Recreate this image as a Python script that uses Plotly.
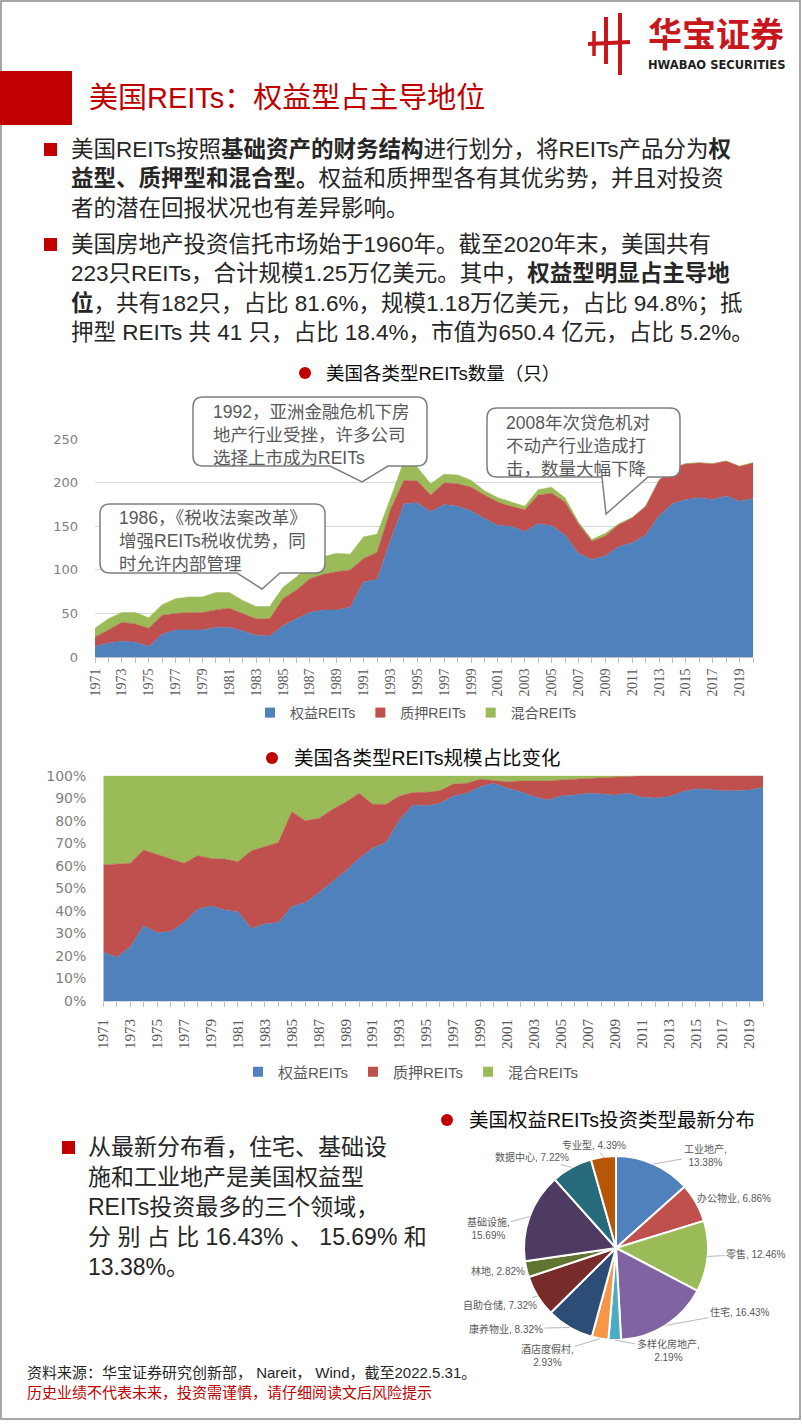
import math
import plotly.graph_objects as go

W, H = 802, 1424
def px(x): return x / W
def py(y): return 1 - y / H

# ---------------- data ----------------
years = list(range(1971, 2021))
series_names = ["权益REITs", "质押REITs", "混合REITs"]

count_equity = [12, 16, 18, 17, 12, 26, 31, 31, 31, 34,
                34, 30, 25, 24, 36, 44, 51, 54, 54, 57,
                86, 89, 134, 176, 177, 167, 175, 173, 168, 159,
                151, 150, 144, 153, 151, 140, 119, 112, 116, 127,
                131, 140, 162, 176, 181, 183, 181, 185, 179, 182]
count_mortgage = [11, 15, 22, 21, 21, 22, 19, 20, 20, 20,
                  22, 20, 19, 20, 31, 33, 39, 41, 44, 43,
                  27, 31, 35, 27, 25, 19, 25, 26, 27, 27,
                  27, 23, 25, 33, 37, 38, 34, 21, 23, 25,
                  29, 33, 41, 41, 41, 40, 41, 40, 40, 41]
count_hybrid = [10, 13, 11, 13, 12, 12, 17, 18, 18, 20,
                18, 15, 14, 14, 13, 15, 17, 20, 21, 18,
                25, 21, 13, 22, 16, 13, 10, 10, 8, 5,
                5, 5, 4, 6, 7, 5, 2, 2, 3, 1,
                0, 0, 0, 0, 0, 0, 0, 0, 0, 0]

share_equity = [21.6, 19.4, 24.0, 33.4, 30.3, 30.8, 34.8, 40.7, 42.2, 40.4,
                39.6, 32.2, 34.2, 34.8, 41.9, 43.6, 48.0, 53.0, 57.7, 63.3,
                67.8, 70.4, 80.3, 87.0, 86.7, 87.7, 91.0, 92.2, 95.1, 96.6,
                94.4, 92.9, 90.7, 89.2, 91.0, 91.4, 92.2, 91.9, 91.4, 92.2,
                90.4, 90.1, 90.7, 92.9, 94.1, 93.9, 93.3, 93.3, 93.6, 94.8]
share_mortgage = [38.8, 41.4, 37.1, 33.6, 34.7, 32.2, 26.3, 23.8, 21.1, 22.6,
                  22.2, 34.5, 34.3, 35.5, 42.1, 36.4, 33.0, 32.0, 30.5, 28.9,
                  19.5, 16.9, 10.7, 5.5, 5.9, 5.6, 5.3, 4.4, 3.3, 1.2,
                  2.9, 4.7, 6.9, 8.4, 7.1, 7.0, 6.6, 7.4, 8.2, 7.7,
                  9.6, 9.9, 9.3, 7.1, 5.9, 6.1, 6.7, 6.7, 6.4, 5.2]
share_hybrid = [39.6, 39.2, 38.9, 33.0, 35.0, 37.0, 38.9, 35.5, 36.7, 37.0,
                38.2, 33.3, 31.5, 29.7, 16.0, 20.0, 19.0, 15.0, 11.8, 7.8,
                12.7, 12.7, 9.0, 7.5, 7.4, 6.7, 3.7, 3.4, 1.6, 2.2,
                2.7, 2.4, 2.4, 2.4, 1.9, 1.6, 1.2, 0.7, 0.4, 0.1,
                0, 0, 0, 0, 0, 0, 0, 0, 0, 0]

pie_labels = ["工业地产", "办公物业", "零售", "住宅", "多样化房地产", "酒店度假村",
              "康养物业", "自助仓储", "林地", "基础设施", "数据中心", "专业型"]
pie_values = [13.38, 6.86, 12.46, 16.43, 2.19, 2.93, 8.32, 7.32, 2.82, 15.69, 7.22, 4.39]

count_ticks = [0, 50, 100, 150, 200, 250]
share_ticks = [0, 10, 20, 30, 40, 50, 60, 70, 80, 90, 100]
share_tick_text = ["0%", "10%", "20%", "30%", "40%", "50%", "60%", "70%", "80%", "90%", "100%"]

# ---------------- styles ----------------
C_BLUE, C_RED, C_GREEN = "#4F81BD", "#C0504D", "#9BBB59"
series_colors = [C_BLUE, C_RED, C_GREEN]
pie_colors = ["#4F81BD", "#C0504D", "#9BBB59", "#8064A2", "#4BACC6", "#F79646",
              "#2C4D75", "#772C2A", "#5F7530", "#4D3B62", "#276A7C", "#B65708"]
RED = "#C00000"
CJK = "Liberation Sans, Noto Sans CJK SC"

fig = go.Figure()

# chart 1: counts
for name, vals, col in zip(series_names, [count_equity, count_mortgage, count_hybrid], series_colors):
    fig.add_trace(go.Scatter(x=years, y=vals, stackgroup="one", mode="lines",
                             line=dict(width=0.5, color=col), fillcolor=col,
                             showlegend=False, hoverinfo="skip", xaxis="x", yaxis="y"))
for name, col in zip(series_names, series_colors):
    fig.add_trace(go.Scatter(x=[None], y=[None], mode="markers", name=name,
                             marker=dict(symbol="square", size=10, color=col),
                             legend="legend", xaxis="x", yaxis="y"))

# chart 2: shares
for name, vals, col in zip(series_names, [share_equity, share_mortgage, share_hybrid], series_colors):
    fig.add_trace(go.Scatter(x=years, y=vals, stackgroup="two", mode="lines",
                             line=dict(width=0.5, color=col), fillcolor=col,
                             showlegend=False, hoverinfo="skip", xaxis="x2", yaxis="y2"))
for name, col in zip(series_names, series_colors):
    fig.add_trace(go.Scatter(x=[None], y=[None], mode="markers", name=name,
                             marker=dict(symbol="square", size=10, color=col),
                             legend="legend2", xaxis="x2", yaxis="y2"))

# pie
PIE_CX, PIE_CY, PIE_R = 616, 1248, 92
fig.add_trace(go.Pie(labels=pie_labels, values=pie_values, sort=False, direction="clockwise",
                     rotation=0, textinfo="none", showlegend=False, hoverinfo="skip",
                     marker=dict(colors=pie_colors, line=dict(color="white", width=2)),
                     domain=dict(x=[px(PIE_CX - PIE_R), px(PIE_CX + PIE_R)],
                                 y=[py(PIE_CY + PIE_R), py(PIE_CY - PIE_R)])))

tick_text = [str(y) if y % 2 == 1 else "" for y in years]

layout = dict(
    width=W, height=H, autosize=False,
    margin=dict(l=0, r=0, t=0, b=0),
    paper_bgcolor="white", plot_bgcolor="rgba(0,0,0,0)",
    font=dict(family=CJK),
    xaxis=dict(domain=[px(95), px(753)], range=[1971, 2020], tickvals=years, ticktext=tick_text,
               tickangle=-90, ticks="outside", ticklen=5, tickcolor="#BFBFBF",
               showline=True, linecolor="#BFBFBF", showgrid=False, zeroline=False,
               tickfont=dict(family="Liberation Serif", size=14, color="#595959"),
               automargin=False, anchor="y"),
    yaxis=dict(domain=[py(657), py(439.3)], range=[0, 250], tickvals=count_ticks,
               showgrid=True, gridcolor="#D9D9D9", gridwidth=1, zeroline=False, showline=False,
               tickfont=dict(family="DejaVu Sans", size=13, color="#7F7F7F"),
               ticklabelstandoff=16, automargin=False, anchor="x"),
    xaxis2=dict(domain=[px(103.3), px(763)], range=[1971, 2020], tickvals=years, ticktext=tick_text,
                tickangle=-90, ticks="outside", ticklen=5, tickcolor="#BFBFBF",
                showline=True, linecolor="#D9D9D9", showgrid=False, zeroline=False,
                tickfont=dict(family="Liberation Serif", size=15, color="#595959"),
                ticklabelstandoff=6, automargin=False, anchor="y2"),
    yaxis2=dict(domain=[py(1001), py(775.7)], range=[0, 100], tickvals=share_ticks,
                ticktext=share_tick_text,
                showgrid=False, zeroline=False, showline=False,
                tickfont=dict(family="DejaVu Sans", size=14, color="#7F7F7F"),
                ticklabelstandoff=16, automargin=False, anchor="x2"),
    legend=dict(orientation="h", x=px(416), xanchor="center", y=py(713), yanchor="middle",
                font=dict(family=CJK, size=14, color="#595959"), bgcolor="rgba(0,0,0,0)",
                itemwidth=30, tracegroupgap=0, traceorder="normal"),
    legend2=dict(orientation="h", x=px(411), xanchor="center", y=py(1072), yanchor="middle",
                 font=dict(family=CJK, size=15, color="#595959"), bgcolor="rgba(0,0,0,0)",
                 itemwidth=30, tracegroupgap=0, traceorder="normal"),
)
fig.update_layout(**layout)

shapes = []
annotations = []

def rect(x0, y0, x1, y1, fill=None, line=None, lw=0):
    shapes.append(dict(type="rect", xref="paper", yref="paper", x0=px(x0), x1=px(x1),
                       y0=py(y1), y1=py(y0), fillcolor=fill,
                       line=dict(width=lw, color=line or "rgba(0,0,0,0)")))

def dot(cx, cy, r, color):
    shapes.append(dict(type="circle", xref="paper", yref="paper", x0=px(cx - r), x1=px(cx + r),
                       y0=py(cy + r), y1=py(cy - r), fillcolor=color, line=dict(width=0)))

def line_seg(x0, y0, x1, y1, color, w):
    shapes.append(dict(type="line", xref="paper", yref="paper", x0=px(x0), y0=py(y0),
                       x1=px(x1), y1=py(y1), line=dict(color=color, width=w)))

def text(x, y, s, size, color="#262626", xanchor="left", yanchor="middle", family=CJK, align="left"):
    annotations.append(dict(x=px(x), y=py(y), xref="paper", yref="paper", text=s, showarrow=False,
                            xanchor=xanchor, yanchor=yanchor, align=align,
                            font=dict(family=family, size=size, color=color)))

# page frame
rect(1, 1, 800, 1419, fill="rgba(0,0,0,0)", line="#8C8C8C", lw=1.5)

# logo
LOGO = "#C8161D"
line_seg(588, 44, 630, 42, LOGO, 4)
line_seg(594, 31, 594, 56, LOGO, 3.5)
line_seg(606, 17, 606, 64, LOGO, 4)
line_seg(620, 13, 620, 75, LOGO, 4)
text(716, 35, "<b>华宝证券</b>", 34, color=LOGO, xanchor="center")
text(716, 65, "<b>HWABAO SECURITIES</b>", 11.5, color="#231F20", xanchor="center", family="DejaVu Sans")

# title
rect(0, 71, 72, 125, fill=RED)
text(87, 98, "美国REITs：权益型占主导地位", 29, color=RED)

# bullets
rect(44, 143, 57, 156, fill=RED)
b1 = ["美国REITs按照<b>基础资产的财务结构</b>进行划分，将REITs产品分为<b>权</b>",
      "<b>益型、质押型和混合型。</b>权益和质押型各有其优劣势，并且对投资",
      "者的潜在回报状况也有差异影响。"]
text(69, 135, "<br>".join(b1), 22.5, yanchor="top")
rect(44, 238, 57, 251, fill=RED)
b2 = ["美国房地产投资信托市场始于1960年。截至2020年末，美国共有",
      "223只REITs，合计规模1.25万亿美元。其中，<b>权益型明显占主导地</b>",
      "<b>位</b>，共有182只，占比 81.6%，规模1.18万亿美元，占比 94.8%；抵",
      "押型 REITs 共 41 只，占比 18.4%，市值为650.4 亿元，占比 5.2%。"]
text(69, 230, "<br>".join(b2), 22.5, yanchor="top")

# chart titles
dot(305, 373, 6, RED)
text(324, 373, "美国各类型REITs数量（只）", 18.5, color="#0D0D0D")
dot(272, 758, 6, RED)
text(292, 758, "美国各类型REITs规模占比变化", 19.5, color="#0D0D0D")
dot(447, 1120, 6, RED)
text(467, 1120, "美国权益REITs投资类型最新分布", 19.5, color="#0D0D0D")

# callouts
def callout(x0, y0, x1, y1, bx0, bx1, tx, ty, r=10):
    p = lambda x, y: f"{px(x):.5f},{py(y):.5f}"
    path = (f"M {p(x0 + r, y0)} L {p(x1 - r, y0)} Q {p(x1, y0)} {p(x1, y0 + r)} "
            f"L {p(x1, y1 - r)} Q {p(x1, y1)} {p(x1 - r, y1)} L {p(bx1, y1)} L {p(tx, ty)} "
            f"L {p(bx0, y1)} L {p(x0 + r, y1)} Q {p(x0, y1)} {p(x0, y1 - r)} "
            f"L {p(x0, y0 + r)} Q {p(x0, y0)} {p(x0 + r, y0)} Z")
    shapes.append(dict(type="path", xref="paper", yref="paper", path=path,
                       fillcolor="white", line=dict(color="#7F7F7F", width=1.5), layer="above"))

callout(100, 504, 325, 573, 237, 280, 262, 589)
callout(193, 397, 427, 466, 330, 388, 362, 482)
callout(487, 408, 680, 477, 602, 648, 606, 514)
CALL = "#595959"
text(117, 506, "1986，《税收法案改革》<br>增强REITs税收优势，同<br>时允许内部管理", 17.5, color=CALL, yanchor="top")
text(211, 400, "1992，亚洲金融危机下房<br>地产行业受挫，许多公司<br>选择上市成为REITs", 17.5, color=CALL, yanchor="top")
text(504, 411, "2008年次贷危机对<br>不动产行业造成打<br>击，数量大幅下降", 17.5, color=CALL, yanchor="top")

# left bullet for pie section
rect(62, 1141, 75, 1154, fill=RED)
b3 = ["从最新分布看，住宅、基础设", "施和工业地产是美国权益型", "REITs投资最多的三个领域，",
      "分 别 占 比 16.43% 、 15.69% 和", "13.38%。"]
text(86, 1132, "<br>".join(b3), 23, yanchor="top")

# pie labels with leader lines from slice mid-angles
label_pos = [(705, 1155), (734, 1198), (756, 1254), (740, 1312), (668, 1350), (547, 1355),
             (506, 1329), (500, 1305), (498, 1271), (488, 1228), (532, 1157), (594, 1145)]
two_line = {"工业地产", "基础设施", "酒店度假村", "多样化房地产"}
total = sum(pie_values)
cum = 0
for lab, val, (lx, ly) in zip(pie_labels, pie_values, label_pos):
    mid = (cum + val / 2) / total * 2 * math.pi
    cum += val
    ex = PIE_CX + PIE_R * math.sin(mid)
    ey = PIE_CY - PIE_R * math.cos(mid)
    sep = ",<br>" if lab in two_line else ", "
    annotations.append(dict(x=px(ex), y=py(ey), xref="paper", yref="paper",
                            text=f"{lab}{sep}{val:.2f}%", showarrow=True, arrowhead=0,
                            arrowwidth=0.8, arrowcolor="#A6A6A6", ax=lx - ex, ay=ly - ey,
                            axref="pixel", ayref="pixel", align="center",
                            font=dict(family=CJK, size=10, color="#595959")))

# footer
text(25, 1362, "资料来源：华宝证券研究创新部， Nareit， Wind，截至2022.5.31。<br>"
     f"<span style='color:{RED}'>历史业绩不代表未来，投资需谨慎，请仔细阅读文后风险提示</span>",
     15, color="#262626", yanchor="top")

fig.update_layout(shapes=shapes, annotations=annotations)
fig.write_html("out.html", config={"displayModeBar": False, "staticPlot": True},
               post_script="document.body.style.margin='0';document.body.style.overflow='hidden';")
